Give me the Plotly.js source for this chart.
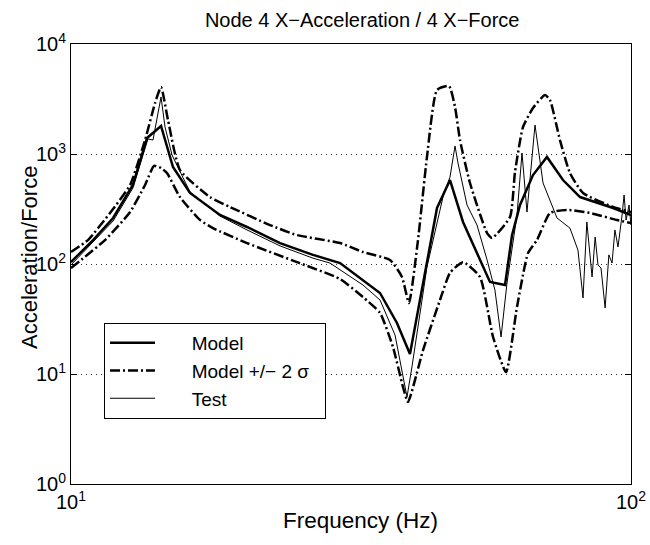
<!DOCTYPE html>
<html>
<head>
<meta charset="utf-8">
<script src="https://cdn.plot.ly/plotly-3.0.1.min.js"></script>
<style>html,body{margin:0;padding:0;background:#fff;}#chart{width:650px;height:545px;}</style>
</head>
<body>
<div id="chart"></div>
<script>
// Frequencies (Hz) and Acceleration/Force values
var freqModel = [10, 10.95, 11.89, 12.9, 13.67, 14.48, 15.21, 16.31, 18.45, 20.62, 23.62, 27.05, 30.23, 33.22, 35.63, 38.2, 40.3, 45.04, 47.51, 50.12, 56.0, 59.57, 61.31, 63.36, 66.83, 70.79, 75.6, 81.1, 92.9, 100];
var model = [104, 165, 262, 523, 1398, 1798, 762, 442, 279, 217, 155, 121, 102, 71.6, 54.5, 29.1, 15.2, 323, 580, 241, 68.6, 64.4, 183, 344, 644, 940, 580, 406, 323, 279];

var freqUpper = [10, 10.72, 11.74, 12.75, 13.56, 14.13, 14.48, 14.9, 15.65, 17.71, 19.22, 22.67, 25.33, 30.23, 33.22, 37.12, 39.0, 40.13, 41.65, 43.22, 45.04, 47.32, 48.5, 49.5, 51.58, 55.33, 56.48, 60.81, 62.07, 64.14, 66.83, 70.22, 71.67, 74.66, 77.8, 82.1, 92.9, 100];
var upper = [128.5, 165, 291, 523, 1341, 2910, 4064, 2038, 716, 406, 330, 226, 183, 155, 128.5, 108.7, 76.2, 44.2, 165, 940, 3818, 4150, 2675, 1340, 545, 191, 172, 268, 686, 1760, 2620, 3435, 3097, 1340, 671, 442, 330, 297];

var freqLower = [10, 11.5, 12.75, 13.56, 14.07, 14.48, 14.84, 15.65, 17.0, 17.93, 20.62, 25.33, 30.23, 33.22, 35.63, 37.58, 39.16, 39.97, 42.53, 45.6, 47.51, 50.12, 53.75, 56.71, 59.82, 62.58, 65.49, 67.94, 71.67, 76.86, 84.5, 94.4, 100];
var lower = [92, 165, 297, 523, 779, 746, 671, 406, 251, 212, 155, 104, 73, 50.1, 35.9, 17.6, 7.62, 5.56, 16.5, 47.1, 83, 104, 76.2, 21.7, 10.4, 40.7, 126, 165, 291, 310, 291, 251, 236];

var freqTest = [10, 10.95, 11.89, 12.9, 13.72, 14.01, 14.48, 14.72, 15.15, 16.31, 18.45, 20.62, 23.62, 27.05, 29.0, 33.22, 35.63, 37.9, 39.0, 39.81, 40.63, 43.22, 45.04, 46.16, 47.51, 48.5, 49.1, 50.95, 53.09, 55.33, 57.15, 58.61, 60.06, 62.58, 63.88, 65.2, 67.39, 69.65, 73.77, 77.8, 80.4, 82.1, 83.4, 85.2, 86.3, 87.3, 88.4, 89.9, 91.3, 92.5, 93.6, 94.8, 96.4, 97.2, 98.0, 99.2, 100];
var test = [98, 158.5, 246, 491, 1368, 1340, 3300, 1760, 979, 452, 273, 204, 146, 113, 102, 64.4, 47.1, 22.6, 10.9, 6.18, 11.6, 94, 236, 406, 618, 1182, 828, 344, 226, 109, 58, 21.7, 67.2, 279, 1021, 297, 1835, 545, 262, 212, 134, 49.1, 241, 76.2, 176, 98, 92, 39.8, 121, 102, 204, 143, 279, 424, 251, 344, 226];

var xTickVals = [10, 100];
var xTickText = ['10<sup>1</sup>', '10<sup>2</sup>'];
var yTickVals = [1, 10, 100, 1000, 10000];
var yTickText = ['10<sup>0</sup>', '10<sup>1</sup>', '10<sup>2</sup>', '10<sup>3</sup>', '10<sup>4</sup>'];

var seriesNames = ['Model', 'Model +/\u2212 2 \u03c3', 'Test'];
var NB = '\u00a0\u00a0\u00a0\u00a0\u00a0\u00a0';
var TAIL = '\u00a0\u00a0';
var dashDot = '10px,3px,2px,3px';

var traces = [
  {x: freqModel, y: model, type: 'scatter', mode: 'lines', name: NB + seriesNames[0],
   line: {color: '#000', width: 2.5}},
  {x: freqUpper, y: upper, type: 'scatter', mode: 'lines', name: NB + seriesNames[1] + TAIL, legendgroup: 'pm',
   line: {color: '#000', width: 2.5, dash: dashDot, shape: 'spline', smoothing: 0.5}},
  {x: freqLower, y: lower, type: 'scatter', mode: 'lines', name: NB + seriesNames[1], legendgroup: 'pm', showlegend: false,
   line: {color: '#000', width: 2.5, dash: dashDot, shape: 'spline', smoothing: 0.5}},
  {x: freqTest, y: test, type: 'scatter', mode: 'lines', name: NB + seriesNames[2],
   line: {color: '#000', width: 1}}
];

var font = {family: '"Liberation Sans", Arial, Helvetica, sans-serif', color: '#000'};

var layout = {
  width: 650, height: 545,
  margin: {l: 71, r: 19, t: 44, b: 61},
  paper_bgcolor: '#fff', plot_bgcolor: '#fff',
  font: Object.assign({size: 18}, font),
  title: {text: 'Node 4 X\u2212Acceleration / 4 X\u2212Force', font: Object.assign({}, font, {size: 20}),
          x: 0.52, xref: 'paper', xanchor: 'center', y: 1 - 20/545, yanchor: 'middle'},
  xaxis: {
    type: 'log', range: [1, 2],
    tickvals: xTickVals, ticktext: xTickText,
    tickfont: Object.assign({}, font, {size: 20}),
    ticks: 'inside', ticklen: 6, tickcolor: '#000',
    showline: true, linecolor: '#000', linewidth: 1, mirror: 'ticks',
    showgrid: false, zeroline: false
  },
  yaxis: {
    type: 'log', range: [0, 4],
    tickvals: yTickVals, ticktext: yTickText,
    tickfont: Object.assign({}, font, {size: 20}),
    ticks: 'inside', ticklen: 6, tickcolor: '#000',
    showline: true, linecolor: '#000', linewidth: 1, mirror: 'ticks',
    showgrid: true, gridcolor: '#333', gridwidth: 1, griddash: '1px,4px',
    zeroline: false
  },
  annotations: [{
    text: 'Acceleration/Force', textangle: -90, showarrow: false,
    xref: 'paper', yref: 'paper', x: (29 - 71) / 560, y: (484 - 258) / 440,
    xanchor: 'center', yanchor: 'middle',
    font: Object.assign({}, font, {size: 22})
  }, {
    text: 'Frequency (Hz)', showarrow: false,
    xref: 'paper', yref: 'paper', x: (360 - 71) / 560, y: (484 - 520) / 440,
    xanchor: 'center', yanchor: 'middle',
    font: Object.assign({}, font, {size: 22.5})
  }],
  showlegend: true,
  legend: {
    x: (104 - 71) / 560, y: (484 - 323) / 440, xanchor: 'left', yanchor: 'top',
    bgcolor: '#fff', bordercolor: '#000', borderwidth: 1,
    font: Object.assign({}, font, {size: 19}),
    itemwidth: 45, tracegroupgap: 0
  }
};

Plotly.newPlot('chart', traces, layout, {displayModeBar: false, staticPlot: true});
</script>
</body>
</html>
